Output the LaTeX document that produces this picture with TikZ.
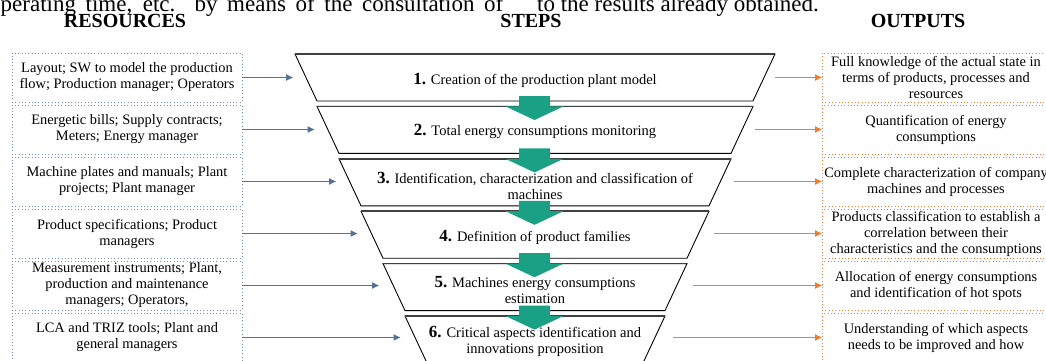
\documentclass[tikz,border=0pt]{standalone}
\usepackage{fontspec}
\setmainfont{Liberation Serif}
\usetikzlibrary{arrows.meta}
\definecolor{resblue}{HTML}{7393BC}
\definecolor{arrblue}{HTML}{52729A}
\definecolor{outorange}{HTML}{ED7D31}
\definecolor{stepgreen}{HTML}{1AA085}
\begin{document}
\begin{tikzpicture}[x=1pt,y=-1pt,
  resbox/.style={draw=resblue, line width=0.9pt, dash pattern=on 1pt off 2.3pt,
    minimum width=230pt, minimum height=49pt, inner sep=0pt, outer sep=0pt,
    align=center, font=\fontsize{14.4}{16}\selectfont},
  outbox/.style={resbox, draw=outorange, minimum width=228pt},
  resarrow/.style={draw=arrblue, line width=1.9pt, -{Triangle[length=7pt,width=6pt]}},
  outarrow/.style={draw=outorange, line width=1.9pt, -{Triangle[length=7pt,width=6pt]}},
  stepshape/.style={draw=black, line width=0.9pt, fill=white},
  steptop/.style={draw=black!75, line width=1.6pt},
  steptext/.style={align=center, inner sep=0pt, font=\fontsize{14.5}{16.5}\selectfont},
  heading/.style={anchor=base, inner sep=0pt, font=\fontsize{20}{20}\selectfont\bfseries},
  paratext/.style={anchor=base west, inner sep=0pt, font=\fontsize{23}{23}\selectfont}
]
\useasboundingbox (0,0) rectangle (1046,360);
\clip (0,0) rectangle (1046,360);

% running text of the page (cut at the top)
\node[paratext] (para1) at (-11,11) {\makebox[514pt][s]{operating time, etc. by means of the consultation of}};
\node[paratext] (para2) at (537,11) {to the results already obtained.};

% headings
\node[heading] (hres) at (125,27) {RESOURCES};
\node[heading] (hstep) at (531,27) {STEPS};
\node[heading] (hout) at (918,27) {OUTPUTS};

% steps (funnel slices)
\foreach \i in {1,...,6}{
  \pgfmathsetmacro{\t}{54+52.4*(\i-1)}
  \pgfmathsetmacro{\d}{22*(\i-1)}
  \draw[stepshape] ({295+\d},\t) -- ({775-\d},\t) -- ({753-\d},{\t+47}) -- ({317+\d},{\t+47}) -- cycle;
  \draw[steptop] ({295+\d},\t) -- ({775-\d},\t);
}
% green block arrows between steps
\foreach \i in {1,...,5}{
  \pgfmathsetmacro{\b}{54+52.4*(\i-1)+47}
  \fill[stepgreen] (519,{\b-5}) -- (550,{\b-5}) -- (550,{\b+5.4}) -- (563.5,{\b+5.4})
    -- (534.5,{\b+19}) -- (505.5,{\b+5.4}) -- (519,{\b+5.4}) -- cycle;
}

% step texts
\node[steptext] (s1) at (535,80) {\textbf{\fontsize{17}{17}\selectfont 1.} Creation of the production plant model};
\node[steptext] (s2) at (535,131) {\textbf{\fontsize{17}{17}\selectfont 2.} Total energy consumptions monitoring};
\node[steptext] (s3) at (535,186) {\textbf{\fontsize{17}{17}\selectfont 3.} Identification, characterization and classification of\\machines};
\node[steptext] (s4) at (535,237) {\textbf{\fontsize{17}{17}\selectfont 4.} Definition of product families};
\node[steptext] (s5) at (535,290) {\textbf{\fontsize{17}{17}\selectfont 5.} Machines energy consumptions\\estimation};
\node[steptext] (s6) at (535,341.5) {\textbf{\fontsize{17}{17}\selectfont 6.} Critical aspects identification and\\innovations proposition};

% resources
\node[resbox] (r1) at (127,77.5) {Layout; SW to model the production\\flow; Production manager; Operators};
\node[resbox] (r2) at (127,129.5) {Energetic bills; Supply contracts;\\Meters; Energy manager};
\node[resbox] (r3) at (127,181.5) {Machine plates and manuals; Plant\\projects; Plant manager};
\node[resbox] (r4) at (127,233.5) {Product specifications; Product\\managers};
\node[resbox] (r5) at (127,285.5) {Measurement instruments; Plant,\\production and maintenance\\managers; Operators,};
\node[resbox] (r6) at (127,337.5) {LCA and TRIZ tools; Plant and\\general managers};

% outputs
\node[outbox] (o1) at (936,77.5) {Full knowledge of the actual state in\\terms of products, processes and\\resources};
\node[outbox] (o2) at (936,129.5) {Quantification of energy\\consumptions};
\node[outbox] (o3) at (936,181.5) {Complete characterization of company\\machines and processes};
\node[outbox] (o4) at (936,233.5) {Products classification to establish a\\correlation between their\\characteristics and the consumptions};
\node[outbox] (o5) at (936,285.5) {Allocation of energy consumptions\\and identification of hot spots};
\node[outbox] (o6) at (936,337.5) {Understanding of which aspects\\needs to be improved and how};

% arrow end/start points near the funnel
\foreach \i in {1,...,6}{
  \pgfmathsetmacro{\yy}{77.5+52*(\i-1)}
  \coordinate (la\i) at ({293+21.5*(\i-1)},\yy);
  \coordinate (ra\i) at ({775-20.4*(\i-1)},\yy);
}
\foreach \i in {1,...,6}{
  \draw[resarrow] (r\i.east) -- (la\i);
  \draw[outarrow] (ra\i) -- (o\i.west);
}
\end{tikzpicture}
\end{document}
